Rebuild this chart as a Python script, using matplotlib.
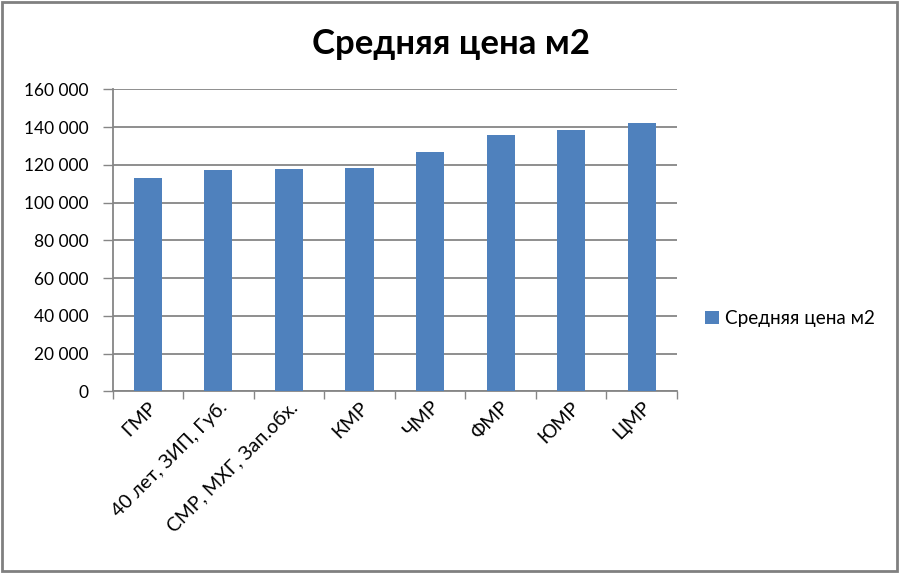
import matplotlib
matplotlib.use('Agg')
import matplotlib.pyplot as plt
from matplotlib.patches import Rectangle
from matplotlib.ticker import FuncFormatter, FixedLocator

plt.rcParams['font.family'] = ['Lato', 'DejaVu Sans']

districts = ['ГМР', '40 лет, ЗИП, Губ.', 'СМР, МХГ, Зап.обх.', 'КМР', 'ЧМР', 'ФМР', 'ЮМР', 'ЦМР']
avg_price = [113200, 117000, 118000, 118500, 126600, 135800, 138500, 142300]
series_name = 'Средняя цена м2'

bar_color = '#4F81BD'
grid_color = '#868686'

fig = plt.figure(figsize=(9.01, 5.73), dpi=100)
ax = fig.add_axes([0.1249, 0.3168, 0.6265, 0.5274])

x = list(range(len(districts)))
ax.bar(x, avg_price, width=0.4, color=bar_color, label=series_name, zorder=3)

ax.set_xlim(-0.5, len(districts) - 0.5)
ax.set_ylim(0, 160000)
ax.set_yticks(range(0, 160001, 20000))
ax.yaxis.set_major_formatter(FuncFormatter(lambda v, p: f'{int(v):,}'.replace(',', ' ')))
ax.yaxis.grid(True, color=grid_color, linewidth=1.3, zorder=0)

ax.xaxis.set_major_locator(FixedLocator([i - 0.5 for i in range(len(districts) + 1)]))
ax.xaxis.set_minor_locator(FixedLocator(x))
ax.set_xticklabels([])
ax.set_xticklabels(districts, minor=True, rotation=45, ha='right', va='top',
                   rotation_mode='anchor', fontsize=14)
ax.tick_params(axis='x', which='major', length=6, width=1, color=grid_color, direction='out')
ax.tick_params(axis='x', which='minor', length=0, pad=5)
ax.tick_params(axis='y', length=7, width=1, color=grid_color, labelsize=12.5, pad=10)

for side in ['top', 'right']:
    ax.spines[side].set_visible(False)
for side in ['left', 'bottom']:
    ax.spines[side].set_color(grid_color)
    ax.spines[side].set_linewidth(1.3)

fig.text(0.5, 0.923, 'Средняя цена м2', ha='center', va='center', fontsize=25, fontweight='bold')

ax.legend(loc='center left', bbox_to_anchor=(1.02, 0.24), frameon=False, fontsize=13.6,
          handlelength=0.7, handleheight=0.7, handletextpad=0.35)

fig.patches.append(Rectangle((0.002, 0.003), 0.994, 0.994, transform=fig.transFigure,
                             fill=False, edgecolor='#808080', linewidth=2))

fig.savefig('out.png', dpi=100)
